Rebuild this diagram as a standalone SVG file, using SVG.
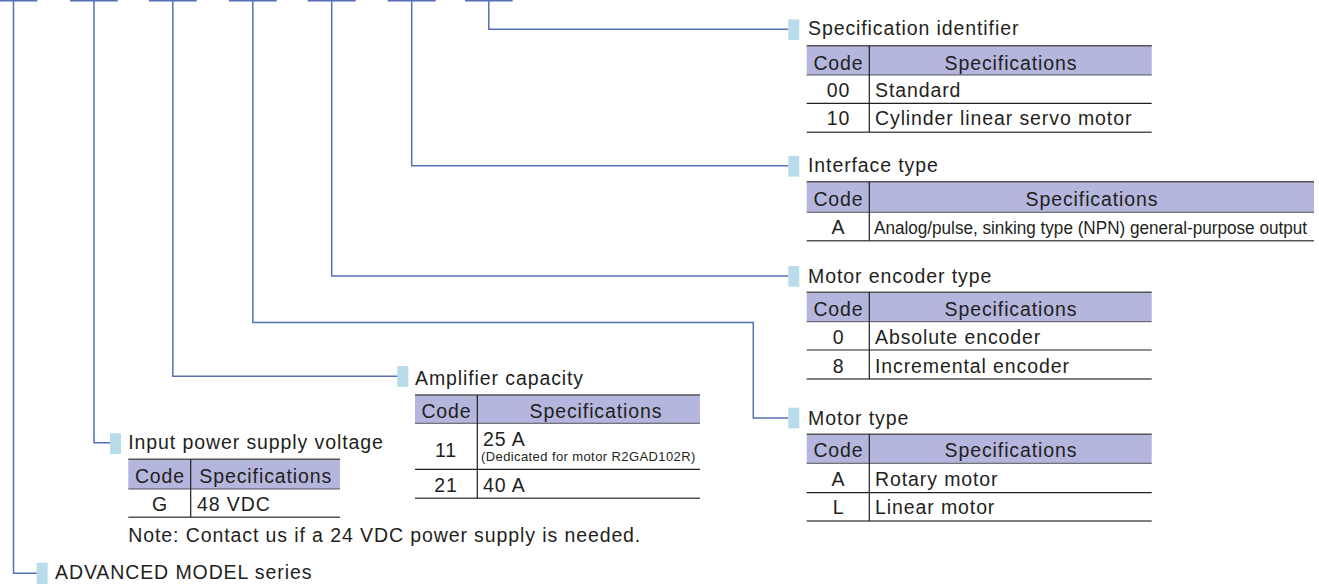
<svg xmlns="http://www.w3.org/2000/svg" width="1319" height="586" viewBox="0 0 1319 586">
<style>
.t{font-family:"Liberation Sans",Arial,Helvetica,sans-serif;font-size:19.5px;letter-spacing:0.9px;fill:#231f20}
.c{text-anchor:middle}
.sm{font-size:13px;letter-spacing:0.4px}
.cond{font-size:17.5px;letter-spacing:0}
.conn{fill:none;stroke:#5670b5;stroke-width:1.5}
.hdr{fill:#b4b6dd}
.sq{fill:#b8dcea}
.rl{stroke:#231f20;stroke-width:1.2}
.tl{stroke:#555;stroke-width:1.6}
.hl{stroke:#333;stroke-width:0.8}
</style>
<rect width="1319" height="586" fill="#ffffff"/>
<g id="connectors">
<path class="conn" d="M-10.3 0.75H37.3M70 0.75H117.7M149 0.75H196.7M229 0.75H276.7M307.7 0.75H355.7M387.7 0.75H435.7M465 0.75H512.7"/>
<path class="conn" d="M13.5 0V573.3H37"/>
<path class="conn" d="M94 0V442.7H110"/>
<path class="conn" d="M172.8 0V376.3H397.3"/>
<path class="conn" d="M252.8 0V322.5H753.3V418H788.3"/>
<path class="conn" d="M331.7 0V276H788.3"/>
<path class="conn" d="M411.7 0V165.7H788.3"/>
<path class="conn" d="M488.8 0V29.3H788.3"/>
</g>
<g id="spec-identifier">
<rect class="sq" x="788.3" y="19.3" width="11" height="20.7"/>
<text class="t" x="808" y="35">Specification identifier</text>
<rect class="hdr" x="806.7" y="45.7" width="345" height="29.3"/>
<line class="tl" x1="806.7" y1="45.7" x2="1151.7" y2="45.7"/>
<line class="hl" x1="806.7" y1="75" x2="1151.7" y2="75"/>
<line class="rl" x1="806.7" y1="103.3" x2="1151.7" y2="103.3"/>
<line class="tl" x1="806.7" y1="132.3" x2="1151.7" y2="132.3"/>
<line class="rl" x1="869.3" y1="45.7" x2="869.3" y2="132.3"/>
<text class="t c" x="838.5" y="70">Code</text>
<text class="t c" x="1011" y="70">Specifications</text>
<text class="t c" x="838.5" y="96.7">00</text>
<text class="t" x="875" y="96.7">Standard</text>
<text class="t c" x="838.5" y="125">10</text>
<text class="t" x="875" y="125">Cylinder linear servo motor</text>
</g>
<g id="interface-type">
<rect class="sq" x="788.3" y="156" width="11" height="20.7"/>
<text class="t" x="808" y="171.7">Interface type</text>
<rect class="hdr" x="806.7" y="181.7" width="507.3" height="30.6"/>
<line class="tl" x1="806.7" y1="181.7" x2="1314" y2="181.7"/>
<line class="hl" x1="806.7" y1="212.3" x2="1314" y2="212.3"/>
<line class="tl" x1="806.7" y1="240.7" x2="1314" y2="240.7"/>
<line class="rl" x1="869.3" y1="181.7" x2="869.3" y2="240.7"/>
<text class="t c" x="838.5" y="205.7">Code</text>
<text class="t c" x="1092" y="205.7">Specifications</text>
<text class="t c" x="838.5" y="234">A</text>
<text class="t cond" x="874" y="234" textLength="433" lengthAdjust="spacingAndGlyphs">Analog/pulse, sinking type (NPN) general-purpose output</text>
</g>
<g id="motor-encoder-type">
<rect class="sq" x="788.3" y="266" width="11" height="20.7"/>
<text class="t" x="808" y="283.3">Motor encoder type</text>
<rect class="hdr" x="806.7" y="292.3" width="345" height="29.4"/>
<line class="tl" x1="806.7" y1="292.3" x2="1151.7" y2="292.3"/>
<line class="hl" x1="806.7" y1="321.7" x2="1151.7" y2="321.7"/>
<line class="rl" x1="806.7" y1="350" x2="1151.7" y2="350"/>
<line class="tl" x1="806.7" y1="379" x2="1151.7" y2="379"/>
<line class="rl" x1="869.3" y1="292.3" x2="869.3" y2="379"/>
<text class="t c" x="838.5" y="315.7">Code</text>
<text class="t c" x="1011" y="315.7">Specifications</text>
<text class="t c" x="838.5" y="344.3">0</text>
<text class="t" x="875" y="344.3">Absolute encoder</text>
<text class="t c" x="838.5" y="372.7">8</text>
<text class="t" x="875" y="372.7">Incremental encoder</text>
</g>
<g id="motor-type">
<rect class="sq" x="788.3" y="407.7" width="11" height="20.7"/>
<text class="t" x="808" y="425">Motor type</text>
<rect class="hdr" x="806.7" y="434.3" width="345" height="29"/>
<line class="tl" x1="806.7" y1="434.3" x2="1151.7" y2="434.3"/>
<line class="hl" x1="806.7" y1="463.3" x2="1151.7" y2="463.3"/>
<line class="rl" x1="806.7" y1="492.7" x2="1151.7" y2="492.7"/>
<line class="tl" x1="806.7" y1="521" x2="1151.7" y2="521"/>
<line class="rl" x1="869.3" y1="434.3" x2="869.3" y2="521"/>
<text class="t c" x="838.5" y="457.3">Code</text>
<text class="t c" x="1011" y="457.3">Specifications</text>
<text class="t c" x="838.5" y="485.7">A</text>
<text class="t" x="875" y="485.7">Rotary motor</text>
<text class="t c" x="838.5" y="514">L</text>
<text class="t" x="875" y="514">Linear motor</text>
</g>
<g id="amplifier-capacity">
<rect class="sq" x="397.3" y="366" width="11" height="21"/>
<text class="t" x="415" y="385">Amplifier capacity</text>
<rect class="hdr" x="415" y="395" width="285" height="28.3"/>
<line class="tl" x1="415" y1="395" x2="700" y2="395"/>
<line class="hl" x1="415" y1="423.3" x2="700" y2="423.3"/>
<line class="rl" x1="415" y1="469.3" x2="700" y2="469.3"/>
<line class="tl" x1="415" y1="498.3" x2="700" y2="498.3"/>
<line class="rl" x1="477.3" y1="395" x2="477.3" y2="498.3"/>
<text class="t c" x="446.5" y="418">Code</text>
<text class="t c" x="596" y="418">Specifications</text>
<text class="t c" x="446" y="456.7">11</text>
<text class="t" x="483" y="446">25 A</text>
<text class="t sm" x="481" y="461">(Dedicated for motor R2GAD102R)</text>
<text class="t c" x="446" y="492.3">21</text>
<text class="t" x="483" y="492.3">40 A</text>
</g>
<g id="input-power-supply-voltage">
<rect class="sq" x="110" y="433.3" width="11" height="20.7"/>
<text class="t" x="128.3" y="449.3">Input power supply voltage</text>
<rect class="hdr" x="128.3" y="459.3" width="211.7" height="29.7"/>
<line class="tl" x1="128.3" y1="459.3" x2="340" y2="459.3"/>
<line class="hl" x1="128.3" y1="489" x2="340" y2="489"/>
<line class="tl" x1="128.3" y1="517.3" x2="340" y2="517.3"/>
<line class="rl" x1="190.7" y1="459.3" x2="190.7" y2="517.3"/>
<text class="t c" x="160" y="483.3">Code</text>
<text class="t c" x="265.8" y="483.3">Specifications</text>
<text class="t c" x="160" y="510.7">G</text>
<text class="t" x="197" y="510.7">48 VDC</text>
<text class="t" x="128.3" y="541.7">Note: Contact us if a 24 VDC power supply is needed.</text>
</g>
<g id="advanced-model-series">
<rect class="sq" x="36.7" y="562.7" width="11" height="21.3"/>
<text class="t" x="55" y="579.3">ADVANCED MODEL series</text>
</g>
</svg>
